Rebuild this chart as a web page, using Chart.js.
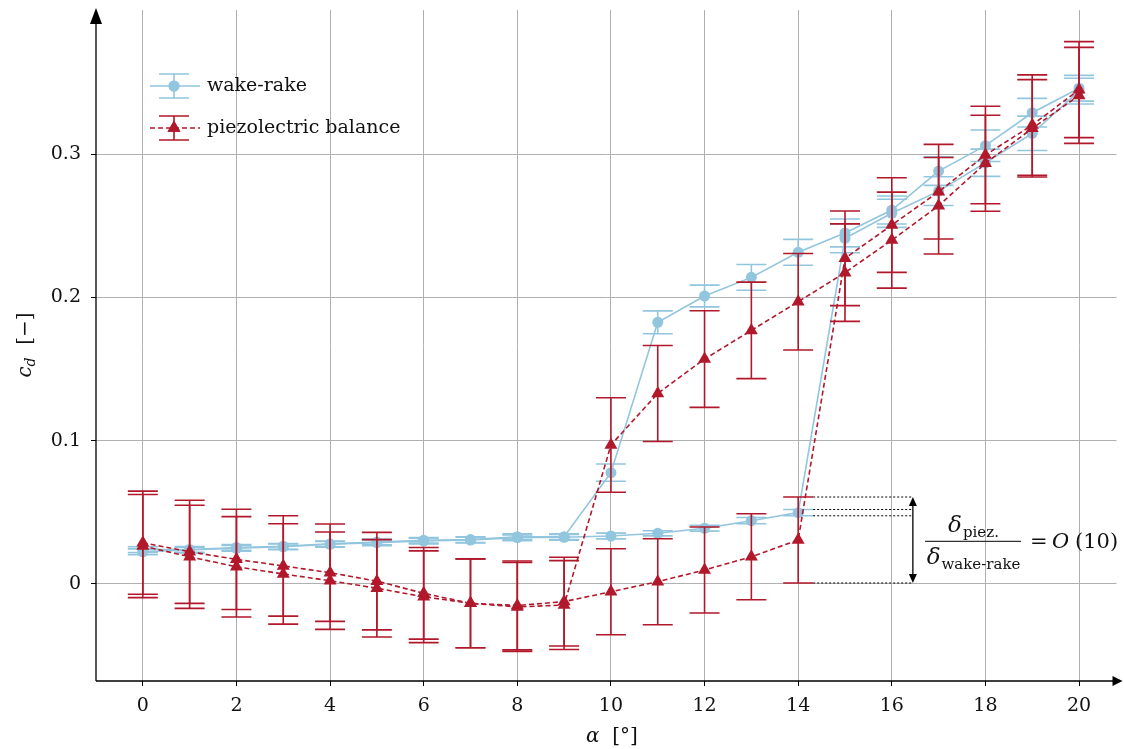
<!DOCTYPE html>
<html>
<head>
<meta charset="utf-8">
<script src="https://cdn.jsdelivr.net/npm/chart.js@4.4.0/dist/chart.umd.min.js"></script>
<style>
    html, body { margin: 0; padding: 0; background: #ffffff; }
</style>
</head>
<body>
<canvas id="cdChart" width="1124" height="749"></canvas>
<script>
// === DATA ===
const alphaDeg = [0, 1, 2, 3, 4, 5, 6, 7, 8, 9, 10, 11, 12, 13, 14, 15, 16, 17, 18, 19, 20];

// wake-rake, increasing / decreasing alpha
const wakeUp      = [0.0225, 0.0237, 0.0249, 0.0260, 0.0277, 0.0288, 0.0300, 0.0307, 0.0323, 0.0326, 0.0335,
                     0.0354, 0.0389, 0.0442, 0.0498, 0.2412, 0.2587, 0.2742, 0.2940, 0.3145, 0.3440];
const wakeUpErr   = [0.002, 0.002, 0.002, 0.002, 0.002, 0.002, 0.002, 0.002, 0.002, 0.002, 0.002,
                     0.0018, 0.002, 0.0022, 0.0022, 0.010, 0.0098, 0.010, 0.0095, 0.012, 0.009];
const wakeDown    = [0.0240, 0.0241, 0.0255, 0.0263, 0.0280, 0.0293, 0.0305, 0.0310, 0.0330, 0.0330, 0.0777,
                     0.1826, 0.2010, 0.2140, 0.2315, 0.2450, 0.2610, 0.2882, 0.3059, 0.3289, 0.3460];
const wakeDownErr = [0.002, 0.002, 0.002, 0.002, 0.002, 0.002, 0.002, 0.002, 0.002, 0.002, 0.006,
                     0.008, 0.0076, 0.009, 0.009, 0.0097, 0.0098, 0.010, 0.011, 0.010, 0.009];

// piezoelectric balance, increasing / decreasing alpha
const piezoUp      = [0.0288, 0.0225, 0.0172, 0.0126, 0.0079, 0.0020, -0.0065, -0.0135, -0.0150, -0.0123, -0.0054,
                      0.0016, 0.0098, 0.0190, 0.0307, 0.2273, 0.2505, 0.2738, 0.2994, 0.3203, 0.3450];
const piezoUpErr   = [0.036, 0.036, 0.035, 0.035, 0.034, 0.034, 0.032, 0.031, 0.031, 0.031, 0.030,
                      0.030, 0.030, 0.030, 0.030, 0.033, 0.033, 0.033, 0.034, 0.035, 0.0335];
const piezoDown    = [0.0265, 0.0190, 0.0120, 0.0070, 0.0023, -0.0030, -0.0089, -0.0135, -0.0160, -0.0147, 0.0970,
                      0.1330, 0.1570, 0.1770, 0.1970, 0.2173, 0.2400, 0.2640, 0.2936, 0.3180, 0.3410];
const piezoDownErr = [0.036, 0.036, 0.035, 0.035, 0.034, 0.034, 0.032, 0.031, 0.031, 0.031, 0.033,
                      0.0335, 0.0337, 0.0337, 0.0337, 0.034, 0.0335, 0.0337, 0.0335, 0.034, 0.0335];

const xTicks = [0, 2, 4, 6, 8, 10, 12, 14, 16, 18, 20];
const yTicks = [0, 0.1, 0.2, 0.3];

const seriesLabels = ['wake-rake', 'piezolectric balance'];
const JUMP_INDEX   = 14;   // last attached point of the increasing sweep

const COLORS = {
    wake:  '#92c5de',
    piezo: '#b2182b',
    grid:  '#b0b0b0',
    axis:  '#000000',
    text:  '#111111',
};
const SERIF = '"DejaVu Serif", "Liberation Serif", serif';

const toPoints = values => values.map((v, i) => ({ x: alphaDeg[i], y: v }));

// === PLUGINS ===
function drawArrowHead(ctx, tipX, tipY, dirX, dirY, len, half) {
    const bx = tipX - dirX * len, by = tipY - dirY * len;
    ctx.beginPath();
    ctx.moveTo(tipX, tipY);
    ctx.lineTo(bx - dirY * half, by + dirX * half);
    ctx.lineTo(bx + dirY * half, by - dirX * half);
    ctx.closePath();
    ctx.fill();
}

const errorBarPlugin = {
    id: 'errorBars',
    beforeDatasetDraw(chart, args) {
        const ds = chart.data.datasets[args.index];
        if (!ds.errors) return;
        const ctx = chart.ctx;
        const y   = chart.scales.y;
        ctx.save();
        ctx.strokeStyle = ds.borderColor;
        ctx.lineWidth   = 1.6;
        ctx.setLineDash([]);
        args.meta.data.forEach((pt, i) => {
            const v = ds.data[i].y, e = ds.errors[i];
            const top = y.getPixelForValue(v + e);
            const bot = y.getPixelForValue(v - e);
            ctx.beginPath();
            ctx.moveTo(pt.x, top);      ctx.lineTo(pt.x, bot);
            ctx.moveTo(pt.x - 15, top); ctx.lineTo(pt.x + 15, top);
            ctx.moveTo(pt.x - 15, bot); ctx.lineTo(pt.x + 15, bot);
            ctx.stroke();
        });
        ctx.restore();
    },
};

const decorPlugin = {
    id: 'decor',
    afterDraw(chart) {
        const ctx = chart.ctx;
        const { left, right, top, bottom } = chart.chartArea;
        const xs = chart.scales.x, ys = chart.scales.y;

        // axes with arrows
        ctx.save();
        ctx.strokeStyle = COLORS.axis;
        ctx.fillStyle   = COLORS.axis;
        ctx.lineWidth   = 1.3;
        ctx.beginPath();
        ctx.moveTo(left, bottom); ctx.lineTo(left, top + 4);
        ctx.moveTo(left, bottom); ctx.lineTo(right, bottom);
        ctx.stroke();
        drawArrowHead(ctx, left, top - 2, 0, -1, 16, 6);
        drawArrowHead(ctx, right + 6, bottom, 1, 0, 10, 5);

        // hysteresis annotation
        const i  = JUMP_INDEX;
        const x0 = xs.getPixelForValue(alphaDeg[i]) + 15;
        const xa = xs.getPixelForValue(16.45);
        const levels = [
            piezoUp[i] + piezoUpErr[i],
            wakeUp[i] + wakeUpErr[i],
            wakeUp[i] - wakeUpErr[i],
            piezoUp[i] - piezoUpErr[i],
        ].map(v => ys.getPixelForValue(v));
        ctx.lineWidth = 1;
        ctx.setLineDash([2, 2]);
        ctx.beginPath();
        levels.forEach(py => { ctx.moveTo(x0, py); ctx.lineTo(xa, py); });
        ctx.stroke();
        ctx.setLineDash([]);
        ctx.lineWidth = 1.3;
        ctx.beginPath();
        ctx.moveTo(xa, levels[0] + 6); ctx.lineTo(xa, levels[3] - 6);
        ctx.stroke();
        drawArrowHead(ctx, xa, levels[0], 0, -1, 9, 4);
        drawArrowHead(ctx, xa, levels[3], 0, 1, 9, 4);

        // fraction text
        ctx.fillStyle = COLORS.text;
        ctx.textBaseline = 'alphabetic';
        const barY = ys.getPixelForValue(0.0298);
        const cx   = 973;
        const drawSub = (main, sub, centerX, baseY) => {
            ctx.font = `italic 23px ${SERIF}`;
            const wm = ctx.measureText(main).width;
            ctx.font = `15px ${SERIF}`;
            const ws = ctx.measureText(sub).width;
            const sx = centerX - (wm + ws) / 2;
            ctx.font = `italic 23px ${SERIF}`;
            ctx.fillText(main, sx, baseY);
            ctx.font = `15px ${SERIF}`;
            ctx.fillText(sub, sx + wm + 1, baseY + 5);
        };
        drawSub('δ', 'piez.', cx, barY - 9);
        drawSub('δ', 'wake-rake', cx, barY + 23);
        ctx.lineWidth = 1;
        ctx.beginPath();
        ctx.moveTo(cx - 48, barY); ctx.lineTo(cx + 48, barY);
        ctx.stroke();
        ctx.font = `21px ${SERIF}`;
        ctx.fillText('=', 1030, barY + 7);
        ctx.font = `italic 21px ${SERIF}`;
        ctx.fillText('O', 1052, barY + 7);
        ctx.font = `21px ${SERIF}`;
        ctx.fillText('(10)', 1075, barY + 7);

        // axis titles
        ctx.font = `italic 20px ${SERIF}`;
        const wA = ctx.measureText('α').width;
        ctx.font = `20px ${SERIF}`;
        const wB = ctx.measureText('  [°]').width;
        let sx = 612 - (wA + wB) / 2;
        ctx.font = `italic 20px ${SERIF}`;
        ctx.fillText('α', sx, 742);
        ctx.font = `20px ${SERIF}`;
        ctx.fillText('  [°]', sx + wA, 742);

        ctx.save();
        ctx.translate(31, 345);
        ctx.rotate(-Math.PI / 2);
        ctx.font = `italic 20px ${SERIF}`;
        const wc = ctx.measureText('c').width;
        ctx.font = `italic 14px ${SERIF}`;
        const wd = ctx.measureText('d').width;
        ctx.font = `20px ${SERIF}`;
        const wr = ctx.measureText('  [−]').width;
        sx = -(wc + wd + wr) / 2;
        ctx.font = `italic 20px ${SERIF}`;
        ctx.fillText('c', sx, 0);
        ctx.font = `italic 14px ${SERIF}`;
        ctx.fillText('d', sx + wc, 4);
        ctx.font = `20px ${SERIF}`;
        ctx.fillText('  [−]', sx + wc + wd, 0);
        ctx.restore();

        // legend
        const rows = [
            { y: 86,  color: COLORS.wake,  dash: [],     style: 'circle',   r: 5.5, label: seriesLabels[0] },
            { y: 128, color: COLORS.piezo, dash: [5, 3], style: 'triangle', r: 7.5, label: seriesLabels[1] },
        ];
        rows.forEach(row => {
            ctx.strokeStyle = row.color;
            ctx.fillStyle   = row.color;
            ctx.lineWidth   = 1.6;
            ctx.setLineDash(row.dash);
            ctx.beginPath();
            ctx.moveTo(150, row.y); ctx.lineTo(200, row.y);
            ctx.stroke();
            ctx.setLineDash([]);
            ctx.beginPath();
            ctx.moveTo(174, row.y - 12); ctx.lineTo(174, row.y + 12);
            ctx.moveTo(159, row.y - 12); ctx.lineTo(189, row.y - 12);
            ctx.moveTo(159, row.y + 12); ctx.lineTo(189, row.y + 12);
            ctx.stroke();
            Chart.helpers.drawPoint(ctx, { pointStyle: row.style, radius: row.r, rotation: 0, borderWidth: 0 }, 174, row.y);
            ctx.fill();
            ctx.fillStyle = COLORS.text;
            ctx.font = `19px ${SERIF}`;
            ctx.textBaseline = 'middle';
            ctx.fillText(row.label, 207, row.y);
            ctx.textBaseline = 'alphabetic';
        });
        ctx.restore();
    },
};

// === CHART ===
function buildDataset(values, errors, color, dashed, order) {
    return {
        data:                 toPoints(values),
        errors,
        borderColor:          color,
        backgroundColor:      color,
        borderWidth:          1.6,
        borderDash:           dashed ? [5, 3] : [],
        pointStyle:           dashed ? 'triangle' : 'circle',
        pointRadius:          dashed ? 7.5 : 5.5,
        pointBorderWidth:     0,
        pointBackgroundColor: color,
        tension:              0,
        fill:                 false,
        order,
    };
}

new Chart(document.getElementById('cdChart').getContext('2d'), {
    type: 'line',
    data: {
        datasets: [
            buildDataset(wakeUp,    wakeUpErr,    COLORS.wake,  false, 4),
            buildDataset(wakeDown,  wakeDownErr,  COLORS.wake,  false, 3),
            buildDataset(piezoUp,   piezoUpErr,   COLORS.piezo, true,  2),
            buildDataset(piezoDown, piezoDownErr, COLORS.piezo, true,  1),
        ],
    },
    options: {
        responsive: false,
        animation:  false,
        layout:     { padding: { top: 10, right: 6, left: 0, bottom: 0 } },
        plugins:    { legend: { display: false }, tooltip: { enabled: false } },
        scales: {
            x: {
                type: 'linear',
                min:  -1,
                max:  20.8,
                afterBuildTicks: scale => { scale.ticks = xTicks.map(value => ({ value })); },
                afterFit: scale => {
                    scale.height = 68;
                    scale.paddingLeft = 0;
                    scale.paddingRight = 0;
                },
                grid:   { color: COLORS.grid, lineWidth: 1, tickLength: 5, tickColor: COLORS.axis },
                border: { display: false },
                ticks:  { color: COLORS.text, font: { family: SERIF, size: 19 }, padding: 9, maxRotation: 0,
                          callback: value => String(value) },
            },
            y: {
                type: 'linear',
                min:  -0.0677,
                max:  0.4006,
                afterBuildTicks: scale => { scale.ticks = yTicks.map(value => ({ value })); },
                afterFit: scale => {
                    scale.width = 96;
                    scale.paddingTop = 0;
                    scale.paddingBottom = 0;
                },
                grid:   { color: COLORS.grid, lineWidth: 1, tickLength: 5, tickColor: COLORS.axis },
                border: { display: false },
                ticks:  { color: COLORS.text, font: { family: SERIF, size: 19 }, padding: 10,
                          callback: value => String(value) },
            },
        },
    },
    plugins: [errorBarPlugin, decorPlugin],
});
</script>
</body>
</html>
